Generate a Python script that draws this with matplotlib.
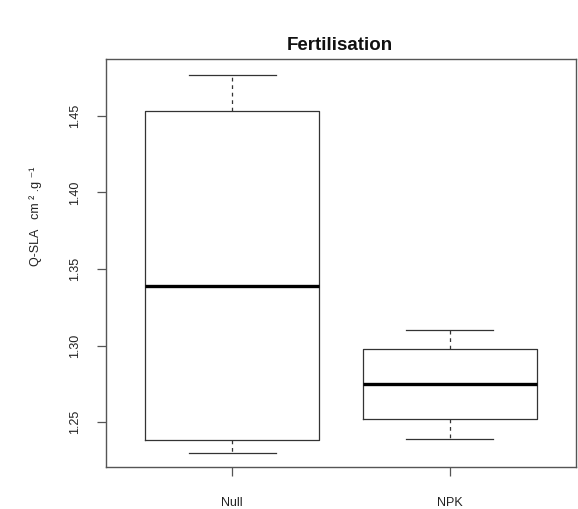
import matplotlib
matplotlib.use("Agg")
import matplotlib.pyplot as plt

categories = ["Null", "NPK"]
whisker_low = [1.2302, 1.2389]
q1 = [1.2385, 1.2522]
median = [1.3389, 1.2750]
q3 = [1.4533, 1.2978]
whisker_high = [1.4767, 1.3104]
yticks = [1.25, 1.30, 1.35, 1.40, 1.45]

plt.rcParams['font.family'] = ['Liberation Sans', 'DejaVu Sans']

fig = plt.figure(figsize=(5.78, 5.09), dpi=100)
W, H = 578, 509
L, R, T, B = 106, 576, 59, 467
ax = fig.add_axes([L / W, 1 - B / H, (R - L) / W, (B - T) / H])

stats = []
for i, c in enumerate(categories):
    stats.append(dict(label=c, whislo=whisker_low[i], q1=q1[i], med=median[i],
                      q3=q3[i], whishi=whisker_high[i], fliers=[]))

lc = '#333333'
ax.bxp(stats, positions=[1, 2], widths=0.8, showfliers=False,
       boxprops=dict(color=lc, linewidth=0.9),
       medianprops=dict(color='black', linewidth=2.4),
       whiskerprops=dict(color=lc, linewidth=0.9, linestyle=(0, (3, 3))),
       capprops=dict(color=lc, linewidth=0.9),
       capwidths=0.4)

ax.set_xlim(0.42, 2.58)
ax.set_ylim(1.2208, 1.4870)
ax.set_yticks(yticks)
ax.set_yticklabels([f"{v:.2f}" for v in yticks], rotation=90, va='center')
ax.set_xticks([1, 2])
ax.set_xticklabels(categories)
for s in ax.spines.values():
    s.set_color('#555555')
    s.set_linewidth(1.0)
ax.tick_params(axis='both', colors='#555555', labelcolor='#222222', labelsize=9,
               length=6.5, width=0.9)
ax.tick_params(axis='y', pad=11.5)
ax.tick_params(axis='x', pad=15)

fig.text(36 / W, 1 - 216 / H, "Q-SLA   cm ² .g ⁻¹", rotation=90, ha='center', va='center',
         fontsize=9, color='#222222')
fig.text(340 / W, 1 - 46 / H, "Fertilisation", ha='center', va='center',
         fontsize=13.5, fontweight='bold', color='#111111')

fig.savefig("out.png", dpi=100)
